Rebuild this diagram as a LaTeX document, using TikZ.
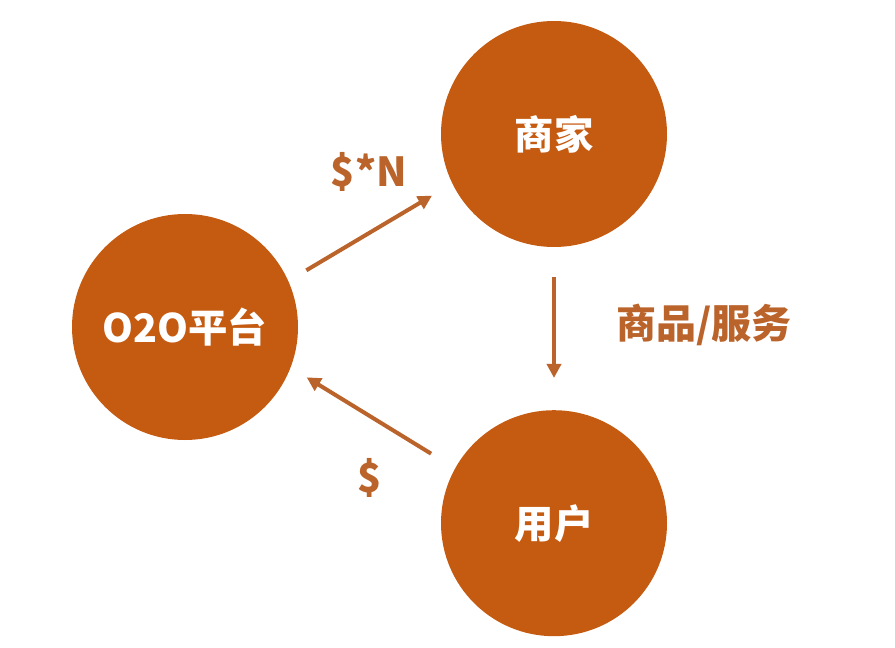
\documentclass[tikz,border=0pt]{standalone}
\usepackage{xcolor}
\usepackage{fontspec}
\setmainfont{Noto Sans CJK SC}
\usepackage{tikz}
\usetikzlibrary{arrows.meta,positioning}
\definecolor{hubfill}{RGB}{197,90,17}
\definecolor{tagbrown}{RGB}{186,99,42}

\begin{document}
\begin{tikzpicture}[
    x=0.75pt, y=-0.75pt,
    hub/.style={circle, fill=hubfill, minimum size=169.5pt, inner sep=0pt, text=white, font=\fontsize{29.5}{34}\selectfont\bfseries},
    tag/.style={text=tagbrown, font=\fontsize{30}{34}\selectfont\bfseries},
    arrow/.style={-{Triangle[length=10.5pt,width=10.5pt]}, line width=3pt, draw=tagbrown}
]
\useasboundingbox (0,0) rectangle (895,648);
\node[hub] (merchant) at (554,134) {商家};
\node[hub, below=122pt of merchant] (user) {用户};
\node[hub] (platform) at (185,327) {O2O平台};

\node[tag] (fee) at (369,172) {\$*N};
\node[tag] (goods) at (704,325) {商品/服务};
\node[tag] (pay) at (370,478) {\$};

\draw[arrow, shorten <=15.6pt, shorten >=17.6pt] (platform.24) -- (merchant.206);
\draw[arrow, shorten <=22.5pt, shorten >=24pt] (merchant) -- (user);
\draw[arrow, shorten <=21pt, shorten >=14pt] (user.151) -- (platform.339);
\end{tikzpicture}
\end{document}
